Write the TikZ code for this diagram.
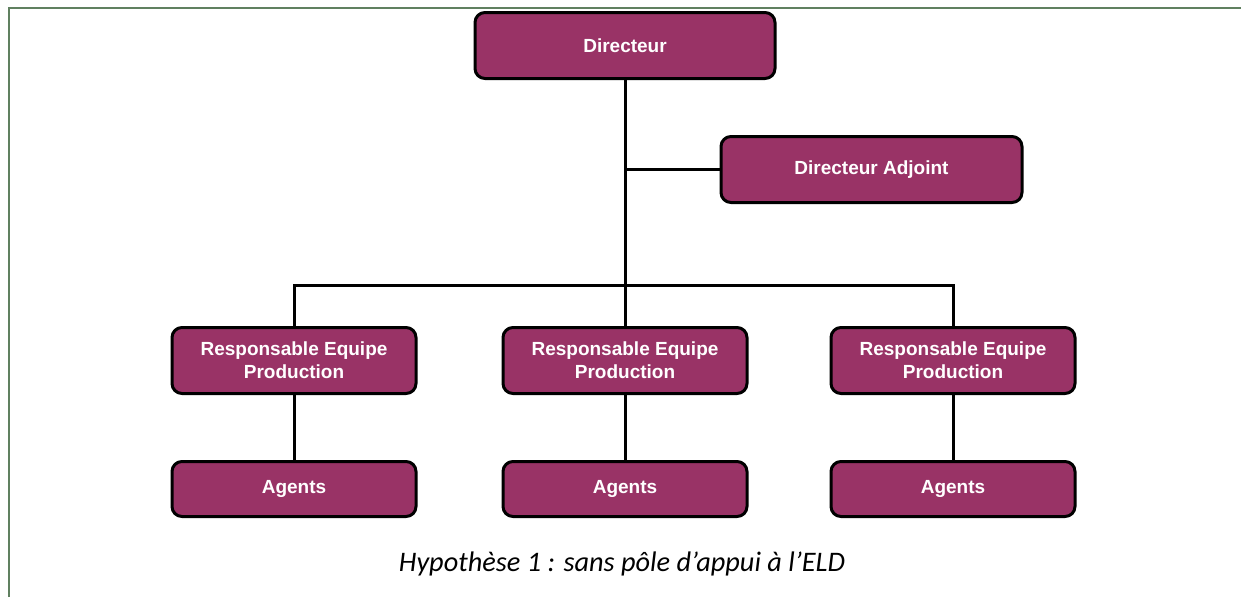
\documentclass[tikz,border=0pt]{standalone}
\usepackage{fontspec}
\setmainfont{Liberation Sans}
\newfontfamily\legendfont{Carlito}
\usepackage{xcolor}
\usepackage{tikz}
\usetikzlibrary{positioning}

\definecolor{boxpurple}{RGB}{153,51,102}
\definecolor{framegreen}{RGB}{96,128,96}

\begin{document}
\begin{tikzpicture}[
    x = 1pt, y = -1pt,
    node distance = 65pt and 84pt]
    \tikzstyle{every node}=[font=\fontsize{19}{23}\selectfont\bfseries]
    \tikzstyle{poste}=[draw=black,line width=3pt,rounded corners=10pt,fill=boxpurple,text=white,align=center,minimum width=244pt,minimum height=66pt,inner sep=2pt]
    \tikzstyle{agent}=[poste,minimum height=55pt]
    \tikzstyle{lien}=[black,line width=3pt]
    \useasboundingbox (0,0) rectangle (1241,597) ;
    % cadre
    \draw[framegreen,line width=2.5pt] (9,597) -- (9,8) -- (1241,8) ;
    % direction
    \node[poste,minimum width=300pt] (dir) at (625,45.5) {Directeur} ;
    \node[poste,minimum width=301pt] (adj) at (871.5,169.5) {Directeur Adjoint} ;
    % equipes
    \node[poste] (re2) at (625,360.5) {Responsable Equipe\\Production} ;
    \node[poste] (re1) [left=of re2] {Responsable Equipe\\Production} ;
    \node[poste] (re3) [right=81pt of re2] {Responsable Equipe\\Production} ;
    \node[agent] (ag1) [below=of re1] {Agents} ;
    \node[agent] (ag2) [below=of re2] {Agents} ;
    \node[agent] (ag3) [below=of re3] {Agents} ;
    \node[font=\legendfont\itshape\fontsize{28.3}{32}\selectfont] (legende) at (622,564) {Hypothèse 1 : sans pôle d’appui à l’ELD} ;
    \coordinate (bus) at (625,285) ;
    \draw[lien] (dir) -- (re2) ;
    \draw[lien] (dir.south |- adj.west) -- (adj) ;
    \draw[lien] (re1.north) |- (bus) -| (re3.north) ;
    \draw[lien] (re1) -- (ag1) ;
    \draw[lien] (re2) -- (ag2) ;
    \draw[lien] (re3) -- (ag3) ;
\end{tikzpicture}
\end{document}
